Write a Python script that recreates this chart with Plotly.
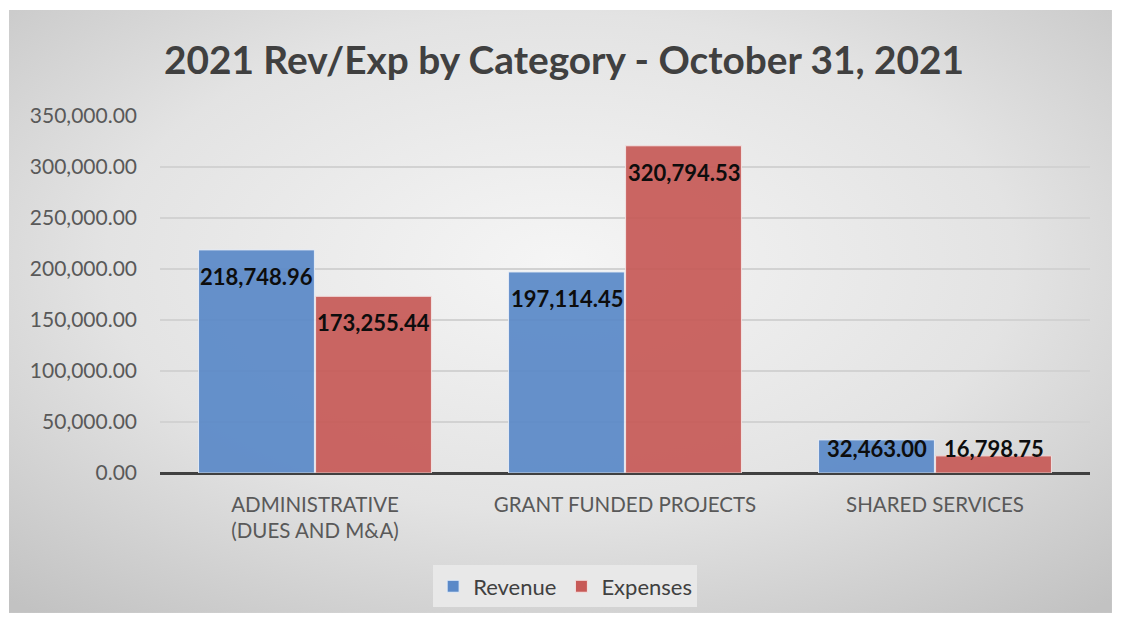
import base64
import plotly.graph_objects as go

# data
categories = ["ADMINISTRATIVE<br>(DUES AND M&A)", "GRANT FUNDED PROJECTS", "SHARED SERVICES"]
revenue = [218748.96, 197114.45, 32463.00]
expenses = [173255.44, 320794.53, 16798.75]
y_ticks = [0, 50000, 100000, 150000, 200000, 250000, 300000, 350000]

FONT = "Lato"
Y_MAX = 350000
PLOT_H = 357  # px height of the plot area

# soft radial background like the office chart style
svg = """<svg xmlns='http://www.w3.org/2000/svg' width='1103' height='603' preserveAspectRatio='none'>
<defs><radialGradient id='g' cx='50%' cy='42%' r='75%'>
<stop offset='0%' stop-color='#f5f5f5'/><stop offset='55%' stop-color='#e3e3e3'/>
<stop offset='100%' stop-color='#c2c2c2'/></radialGradient></defs>
<rect width='1103' height='603' fill='url(#g)'/></svg>"""
bg_uri = "data:image/svg+xml;base64," + base64.b64encode(svg.encode()).decode()

fig = go.Figure()
fig.add_trace(go.Bar(
    x=categories, y=revenue, name="Revenue",
    marker=dict(color="#5a89c8", line=dict(color="#e4ecf7", width=1), opacity=0.92),
))
fig.add_trace(go.Bar(
    x=categories, y=expenses, name="Expenses",
    marker=dict(color="#c75a57", line=dict(color="#f4e2e2", width=1), opacity=0.92),
))

# data labels: "inside end", but never lower than just above the axis
px_unit = Y_MAX / PLOT_H
for vals, shift in ((revenue, -58.5), (expenses, 58.5)):
    for cat, v in zip(categories, vals):
        fig.add_annotation(
            x=cat, y=max(v - 26.5 * px_unit, 25 * px_unit), xshift=shift,
            text=f"<b>{v:,.2f}</b>", showarrow=False, yanchor="middle",
            font=dict(family=FONT, size=22, color="#0d0d0d"),
        )

fig.update_layout(
    width=1121, height=620,
    paper_bgcolor="white", plot_bgcolor="rgba(0,0,0,0)",
    margin=dict(l=152, r=39, t=108, b=155),
    barmode="group", bargap=0.245, bargroupgap=0.01,
    title=dict(text="<b>2021 Rev/Exp by Category - October 31, 2021</b>",
               x=0.496, xanchor="center", y=0.916, yanchor="middle",
               font=dict(family=FONT, size=38.8, color="#404040")),
    font=dict(family=FONT, color="#595959"),
    legend=dict(orientation="h", x=0.497, xanchor="center", y=0.067, yanchor="middle",
                xref="container", yref="container",
                bgcolor="#e8e8e8", font=dict(family=FONT, size=22, color="#404040"),
                itemwidth=30, traceorder="normal"),
    images=[dict(source=bg_uri, xref="paper", yref="paper", x=-0.1624, y=1.297,
                 sizex=1.186, sizey=1.689, xanchor="left", yanchor="top",
                 sizing="stretch", layer="below")],
)
fig.update_xaxes(showgrid=False, tickfont=dict(size=20.5, color="#595959"),
                 showline=False, ticks="", ticklabelstandoff=17)
fig.update_yaxes(range=[0, Y_MAX], tickvals=y_ticks, tickformat=",.2f",
                 showgrid=True, gridcolor="#d2d2d2", gridwidth=1.5,
                 zeroline=True, zerolinecolor="#404040", zerolinewidth=2.5,
                 tickfont=dict(size=21, color="#595959"), ticks="",
                 ticklabelstandoff=22)

fig.write_html("out.html")
